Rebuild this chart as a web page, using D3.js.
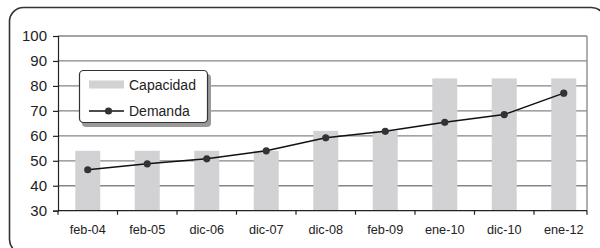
<!DOCTYPE html>
<html><head><meta charset="utf-8">
<script src="https://cdn.jsdelivr.net/npm/d3@7/dist/d3.min.js"></script>
<style>body{margin:0;background:#fff}svg{display:block}text{font-family:"Liberation Sans",Arial,sans-serif;fill:#222}</style>
</head><body><svg id="c" width="600" height="248"></svg>
<script>
const categories = ["feb-04","feb-05","dic-06","dic-07","dic-08","feb-09","ene-10","dic-10","ene-12"];
const capacidad = [54,54,54,54,62,62,83,83,83];
const demanda = [46.4,48.8,50.8,54,59.2,61.8,65.4,68.5,77.1];
const yTicks = [30,40,50,60,70,80,90,100];
const seriesNames = ["Capacidad","Demanda"];

const svg = d3.select("#c");
const pLeft = 58, pRight = 587, pTop = 36, pBottom = 210.7;
const band = 59.5;
const x = d3.scaleBand().domain(categories).range([pLeft, pLeft + band*categories.length]).paddingInner(0.58).paddingOuter(0.29);
const y = d3.scaleLinear().domain([30,100]).range([pBottom, pTop]);

// outer border
svg.append("rect").attr("x",9.5).attr("y",7.5).attr("width",596).attr("height",246).attr("rx",14)
  .attr("fill","none").attr("stroke","#333").attr("stroke-width",1.6);

// gridlines
svg.append("g").selectAll("line").data(yTicks.filter(d=>d>30)).join("line")
  .attr("x1",pLeft).attr("x2",pRight).attr("y1",d=>y(d)).attr("y2",d=>y(d))
  .attr("stroke","#858585").attr("stroke-width",1.3);
// right border
svg.append("line").attr("x1",pRight).attr("x2",pRight).attr("y1",pTop).attr("y2",pBottom)
  .attr("stroke","#858585").attr("stroke-width",1.3);

// bars
svg.append("g").selectAll("rect").data(categories).join("rect")
  .attr("x",d=>x(d)).attr("width",x.bandwidth())
  .attr("y",(d,i)=>y(capacidad[i])).attr("height",(d,i)=>pBottom-y(capacidad[i]))
  .attr("fill","#d2d2d4");

// y axis
const yAxis = d3.axisLeft(y).tickValues(yTicks).tickSize(5).tickPadding(6);
const ga = svg.append("g").attr("transform",`translate(${pLeft},0)`).call(yAxis);
ga.select(".domain").attr("stroke","#222").attr("stroke-width",1.2);
ga.selectAll(".tick line").attr("stroke","#222").attr("stroke-width",1.2);
ga.selectAll(".tick text").attr("font-size",15).attr("fill","#222").attr("font-family","Liberation Sans, Arial, sans-serif");

// x axis
const gx = svg.append("g").attr("transform",`translate(0,${pBottom})`);
gx.append("line").attr("x1",pLeft).attr("x2",pRight).attr("stroke","#222").attr("stroke-width",1.2);
const tickPos = categories.map((d,i)=>pLeft + band*i).concat([pRight]);
gx.selectAll("line.t").data(tickPos).join("line").attr("class","t")
  .attr("x1",d=>d).attr("x2",d=>d).attr("y1",0).attr("y2",4).attr("stroke","#222").attr("stroke-width",1.2);
gx.selectAll("text").data(categories).join("text")
  .attr("x",d=>x(d)+x.bandwidth()/2).attr("y",23).attr("text-anchor","middle")
  .attr("font-size",12.7).text(d=>d);

// line
const line = d3.line().x((d,i)=>x(categories[i])+x.bandwidth()/2).y(d=>y(d));
svg.append("path").datum(demanda).attr("d",line).attr("fill","none").attr("stroke","#111").attr("stroke-width",1.5);
svg.append("g").selectAll("circle").data(demanda).join("circle")
  .attr("cx",(d,i)=>x(categories[i])+x.bandwidth()/2).attr("cy",d=>y(d)).attr("r",3.6).attr("fill","#333");

// legend
const lg = svg.append("g");
lg.append("rect").attr("x",82).attr("y",74).attr("width",129).attr("height",53).attr("rx",4).attr("fill","#9a9a9a");
lg.append("rect").attr("x",79.5).attr("y",70.5).attr("width",128).attr("height",52).attr("rx",4)
  .attr("fill","#fff").attr("stroke","#333").attr("stroke-width",1.2);
lg.append("rect").attr("x",89).attr("y",80.5).attr("width",35).attr("height",8).attr("fill","#d2d2d4");
lg.append("text").attr("x",129).attr("y",89.5).attr("font-size",14).text(seriesNames[0]);
lg.append("line").attr("x1",89).attr("x2",124).attr("y1",111).attr("y2",111).attr("stroke","#111").attr("stroke-width",1.5);
lg.append("circle").attr("cx",108.5).attr("cy",111).attr("r",3.6).attr("fill","#333");
lg.append("text").attr("x",129).attr("y",115.5).attr("font-size",14).text(seriesNames[1]);
</script></body></html>
